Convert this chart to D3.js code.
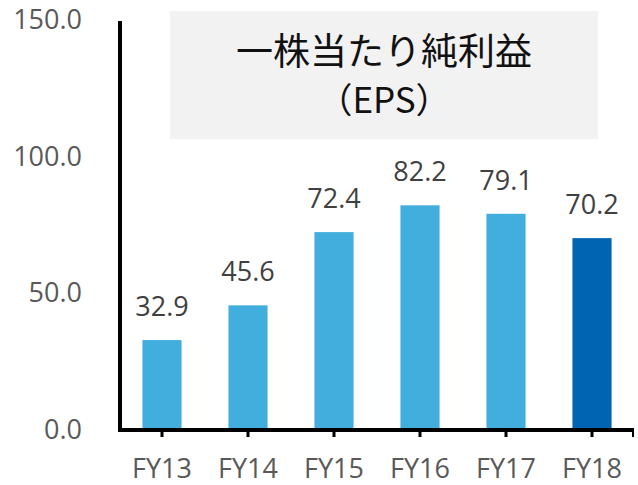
<!DOCTYPE html>
<html>
<head>
<meta charset="utf-8">
<script src="https://cdn.jsdelivr.net/npm/d3@7"></script>
<style>
  body { margin: 0; background: #fff; }
</style>
</head>
<body>
<div id="chart"></div>
<script>
const categories = ["FY13", "FY14", "FY15", "FY16", "FY17", "FY18"];
const eps = [32.9, 45.6, 72.4, 82.2, 79.1, 70.2];
const yTicks = [0, 50, 100, 150];
const barColors = ["#42aedd", "#42aedd", "#42aedd", "#42aedd", "#42aedd", "#0064b3"];

const width = 638, height = 485;
const latin = "\"Open Sans\", \"Noto Sans\", sans-serif";
const cjk = "\"Noto Sans CJK JP\", sans-serif";

const svg = d3.select("#chart")
  .append("svg")
  .attr("width", width)
  .attr("height", height);

const x = d3.scaleBand()
  .domain(categories)
  .range([119, 635])
  .paddingInner(0.545)
  .paddingOuter(0.2725);

const y = d3.scaleLinear()
  .domain([0, 150])
  .range([430, 20]);

// title box
svg.append("rect")
  .attr("x", 170)
  .attr("y", 11)
  .attr("width", 428)
  .attr("height", 128)
  .attr("fill", "#f2f2f2");

svg.append("text")
  .attr("x", 384)
  .attr("y", 65)
  .attr("text-anchor", "middle")
  .attr("font-size", 37)
  .attr("font-family", cjk)
  .attr("fill", "#111")
  .text("一株当たり純利益");

svg.append("text")
  .attr("x", 384)
  .attr("y", 113)
  .attr("text-anchor", "middle")
  .attr("font-size", 35)
  .attr("font-family", cjk)
  .attr("fill", "#111")
  .text("（EPS）");

// bars
svg.append("g")
  .selectAll("rect")
  .data(eps)
  .join("rect")
    .attr("x", (d, i) => x(categories[i]))
    .attr("y", d => y(d))
    .attr("width", x.bandwidth())
    .attr("height", d => y(0) - y(d))
    .attr("fill", (d, i) => barColors[i]);

// value labels
svg.append("g")
  .selectAll("text")
  .data(eps)
  .join("text")
    .attr("x", (d, i) => x(categories[i]) + x.bandwidth() / 2)
    .attr("y", d => y(d) - 24)
    .attr("text-anchor", "middle")
    .attr("font-size", 27)
    .attr("font-family", latin)
    .attr("fill", "#404040")
    .text(d => d.toFixed(1));

// y axis
const yAxis = svg.append("g")
  .attr("transform", "translate(120,0)")
  .call(d3.axisLeft(y).tickValues(yTicks).tickFormat(d3.format(".1f")).tickSize(0).tickPadding(38));
yAxis.select(".domain").attr("stroke", "#000").attr("stroke-width", 4)
  .attr("d", `M0,${y(0) + 2}V${y(150) + 1}`);
yAxis.selectAll("text")
  .attr("font-size", 27)
  .attr("font-family", latin)
  .attr("fill", "#595959");

// x axis
const xAxis = svg.append("g")
  .attr("transform", `translate(0,${y(0)})`)
  .call(d3.axisBottom(x).tickSize(7));
xAxis.select(".domain").attr("stroke", "#000").attr("stroke-width", 4)
  .attr("d", "M118,0H634");
xAxis.selectAll(".tick line").attr("stroke", "#000").attr("stroke-width", 3);
xAxis.selectAll("text")
  .attr("y", 48)
  .attr("dy", null)
  .attr("font-size", 27)
  .attr("font-family", latin)
  .attr("fill", "#595959");
// end tick
xAxis.append("line")
  .attr("x1", 633).attr("x2", 633)
  .attr("y1", 0).attr("y2", 7)
  .attr("stroke", "#000").attr("stroke-width", 2);
</script>
</body>
</html>
